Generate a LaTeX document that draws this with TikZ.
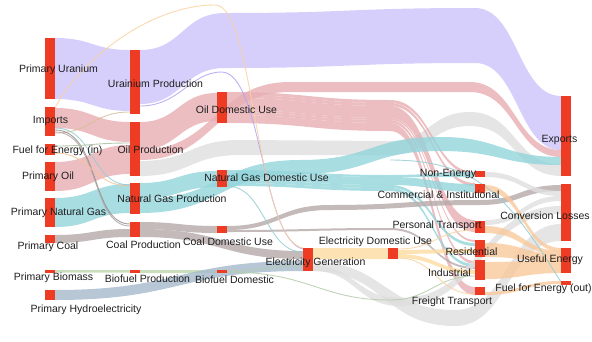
\documentclass[tikz,border=0pt]{standalone}
\usepackage{fontspec}
\setmainfont{Liberation Sans}
\definecolor{nodered}{RGB}{238,59,36}
\definecolor{lav}{RGB}{204,195,250}
\definecolor{pinkb}{RGB}{231,174,178}
\definecolor{cyanb}{RGB}{146,212,219}
\definecolor{grayb}{RGB}{222,222,222}
\definecolor{taupe}{RGB}{181,169,169}
\definecolor{hydro}{RGB}{165,185,204}
\definecolor{orangeb}{RGB}{253,219,161}
\definecolor{useful}{RGB}{249,200,155}
\definecolor{greenb}{RGB}{190,215,175}
\definecolor{txt}{RGB}{30,30,30}
\definecolor{tlav}{RGB}{175,165,245}
\definecolor{torange}{RGB}{250,210,160}
\definecolor{ttan}{RGB}{215,190,150}
\definecolor{tdark}{RGB}{150,140,140}
\definecolor{tgray}{RGB}{175,165,165}
\definecolor{tteal}{RGB}{150,205,210}
\definecolor{tgreen}{RGB}{170,190,160}
\definecolor{torg2}{RGB}{245,195,150}
\definecolor{tgreen2}{RGB}{180,205,170}
\tikzset{
  nd/.style={rectangle, fill=nodered, minimum width=10pt, inner sep=0pt, outer sep=0pt},
  lbl/.style={font=\fontsize{10.5}{12.5}\selectfont, text=txt, inner sep=0pt},
  fl/.style={fill=#1, fill opacity=0.8},
  tl/.style={draw=#1, line width=0.9pt, draw opacity=0.85}
}
\newcommand\cc[4]{.. controls ({(#1+#3)/2},#2) and ({(#1+#3)/2},#4) .. (#3,#4)}
\newcommand\seg[7]{\fill[fl=#1] (#2,#3) \cc{#2}{#3}{#5}{#6} -- (#5,#7) \cc{#5}{#7}{#2}{#4} -- cycle;}
\def\xm{390}
\newcommand\route[9]{\fill[fl=#1] (#2,#3) \cc{#2}{#3}{\xm}{#5} \cc{\xm}{#5}{#7}{#8} -- (#7,#9) \cc{#7}{#9}{\xm}{#6} \cc{\xm}{#6}{#2}{#4} -- cycle;}
\begin{document}
\begin{tikzpicture}[x=1pt,y=-1pt]
\useasboundingbox (0,0) rectangle (592,341);
% ---------- bands ----------
% uranium
\seg{lav}{55}{38}{99}{130}{50}{111}
\fill[fl=lav] (140,50) \cc{140}{50}{225}{13} \cc{225}{13}{475}{8} \cc{475}{8}{561}{96} -- (561,150) \cc{561}{150}{475}{63} \cc{475}{63}{225}{68} \cc{225}{68}{140}{104} -- cycle;
% light gray oil
\fill[fl=grayb] (140,161) \cc{140}{161}{240}{140} \cc{240}{140}{390}{141} \cc{390}{141}{470}{112} \cc{470}{112}{561}{165} -- (561,176) \cc{561}{176}{470}{126} \cc{470}{126}{390}{155} \cc{390}{155}{240}{155} \cc{240}{155}{140}{176} -- cycle;
% oil
\seg{pinkb}{55}{108}{128}{130}{122}{142}
\seg{pinkb}{55}{162}{191}{130}{145}{174}
\seg{pinkb}{140}{122}{150}{217}{93}{121}
\fill[fl=pinkb] (140,150) \cc{140}{150}{290}{82} \cc{290}{82}{470}{82} \cc{470}{82}{561}{150} -- (561,157) \cc{561}{157}{470}{92} \cc{470}{92}{290}{92} \cc{290}{92}{140}{160} -- cycle;
\route{pinkb}{227}{92}{95}{100}{103}{475}{172}{175}
\route{pinkb}{227}{95}{98}{103}{106}{475}{183}{186}
\route{pinkb}{227}{98}{110}{106}{118}{475}{220}{232}
\route{pinkb}{227}{110}{112}{118}{120}{475}{240}{242}
\route{pinkb}{227}{112}{115}{120}{123}{475}{261}{264}
\route{pinkb}{227}{115}{123}{123}{131}{475}{287}{295}
% natural gas
\seg{cyanb}{55}{198}{227}{130}{184}{213}
\seg{cyanb}{140}{183}{199}{217}{171}{187}
\fill[fl=cyanb] (140,199) \cc{140}{199}{300}{160} \cc{300}{160}{440}{137} \cc{440}{137}{561}{157} -- (561,165) \cc{561}{165}{440}{151} \cc{440}{151}{300}{174} \cc{300}{174}{140}{213} -- cycle;
\route{cyanb}{227}{170}{172}{175}{177}{475}{172}{177}
\route{cyanb}{227}{172}{180}{177}{185}{475}{184}{192}
\route{cyanb}{227}{180}{183}{185}{188}{475}{243}{246}
\route{cyanb}{227}{183}{186}{188}{191}{475}{264}{267}
% coal
\seg{taupe}{55}{235}{243}{130}{229}{237}
\seg{taupe}{140}{222}{229}{217}{226}{233}
\seg{taupe}{140}{229}{237}{303}{251}{259}
\fill[fl=taupe] (227,226) \cc{227}{226}{330}{205} \cc{330}{205}{480}{200} \cc{480}{200}{561}{185} -- (561,191) \cc{561}{191}{480}{205} \cc{480}{205}{330}{210} \cc{330}{210}{227}{230} -- cycle;
\route{taupe}{227}{230}{232}{228}{230}{475}{267}{269}
% biomass, hydro
\seg{greenb}{55}{270}{272.5}{130}{270}{272.5}
\seg{greenb}{140}{270}{273}{217}{270}{273}
\seg{hydro}{55}{290}{300}{303}{261}{271}
% electricity
\seg{orangeb}{313}{248}{259}{388}{248}{259}
\fill[fl=grayb] (313,262) \cc{313}{262}{455}{310} \cc{455}{310}{561}{224} -- (561,241) \cc{561}{241}{455}{326} \cc{455}{326}{313}{271} -- cycle;
\fill[fl=grayb] (313,266) \cc{313}{266}{400}{298} \cc{400}{298}{561}{206} -- (561,214) \cc{561}{214}{400}{306} \cc{400}{306}{313}{271} -- cycle;
\seg{orangeb}{398}{250}{254}{475}{249}{253}
\seg{orangeb}{398}{254}{258}{475}{270}{274}
% sectors to sinks
\seg{grayb}{485}{172}{177}{561}{191}{196}
\seg{grayb}{485}{220}{225}{561}{196}{201}
\seg{useful}{485}{185}{191}{561}{248}{252}
\seg{useful}{485}{226}{233}{561}{251}{255}
\seg{useful}{485}{243}{257}{561}{254}{262}
\seg{useful}{485}{262}{279}{561}{260}{273}
\seg{useful}{485}{292}{295}{561}{281}{284}
% ---------- thin links ----------
\draw[tl=tlav] (140,106) .. controls (180,106) and (190,72) .. (222,72) .. controls (262,74) and (262,240) .. (303,249);
\draw[tl=torange] (55,108) .. controls (80,60) and (150,5) .. (215,5) .. controls (255,5) and (255,240) .. (303,248);
\draw[tl=ttan] (55,133) .. controls (92,133) and (92,112) .. (130,112);
\draw[tl=tdark] (55,130) .. controls (100,130) and (90,224) .. (130,224);
\draw[tl=tgray] (55,132) .. controls (100,132) and (90,226) .. (130,226);
\draw[tl=tteal] (55,128) .. controls (95,128) and (90,185) .. (130,185);
\draw[tl=tgreen] (55,146) .. controls (92,146) and (92,143) .. (130,143);
\draw[tl=torg2] (55,153) .. controls (92,153) and (92,186) .. (130,186);
\draw[tl=tteal] (227,186) .. controls (265,186) and (265,252) .. (303,252);
\draw[tl=tteal] (390,160) .. controls (480,160) and (510,200) .. (561,282);
\draw[tl=tgreen2] (227,271) .. controls (265,271) and (265,266) .. (303,266);
\draw[tl=tgreen2] (227,272) .. controls (310,272) and (320,300) .. (390,300) .. controls (430,300) and (435,276) .. (475,276);
\draw[tl=torange] (398,249) .. controls (436,249) and (436,230) .. (475,230);
\draw[tl=torange] (398,258) .. controls (436,258) and (436,294) .. (475,294);
% ---------- nodes ----------
\node[nd, minimum height=61pt] (PU) at (50,68.5) {};
\node[nd, minimum height=29pt] (IM) at (50,121.5) {};
\node[nd, minimum height=11pt] (FI) at (50,149.5) {};
\node[nd, minimum height=29pt] (PO) at (50,176.5) {};
\node[nd, minimum height=29pt] (PG) at (50,212.5) {};
\node[nd, minimum height=8pt] (PC) at (50,239) {};
\node[nd, minimum height=2.5pt] (PB) at (50,271.25) {};
\node[nd, minimum height=10pt] (PH) at (50,295) {};
\node[nd, minimum height=64pt] (UP) at (135,82) {};
\node[nd, minimum height=54pt] (OP) at (135,149) {};
\node[nd, minimum height=31pt] (GP) at (135,198.5) {};
\node[nd, minimum height=15pt] (CP) at (135,229.5) {};
\node[nd, minimum height=3pt] (BP) at (135,271.5) {};
\node[nd, minimum height=31pt] (OD) at (222,107.5) {};
\node[nd, minimum height=17pt] (GD) at (222,178.5) {};
\node[nd, minimum height=7pt] (CD) at (222,229.5) {};
\node[nd, minimum height=3pt] (BD) at (222,271.5) {};
\node[nd, minimum height=23pt] (EG) at (308,259.5) {};
\node[nd, minimum height=11pt] (ED) at (393,253.5) {};
\node[nd, minimum height=6pt] (NE) at (480,174) {};
\node[nd, minimum height=9pt] (CI) at (480,188) {};
\node[nd, minimum height=12pt] (PT) at (480,227) {};
\node[nd, minimum height=17pt] (RE) at (480,248.5) {};
\node[nd, minimum height=20pt] (IN) at (480,270) {};
\node[nd, minimum height=8pt] (FT) at (480,291) {};
\node[nd, minimum height=80pt] (EX) at (566,136) {};
\node[nd, minimum height=57pt] (CL) at (566,212.5) {};
\node[nd, minimum height=25pt] (UE) at (566,260.5) {};
\node[nd, minimum height=4pt] (FO) at (566,283) {};
% ---------- labels ----------
\node[lbl] (PUl) at (58.5,70) {Primary Uranium};
\node[lbl] (IMl) at (50.5,121) {Imports};
\node[lbl] (FIl) at (57.5,151) {Fuel for Energy (in)};
\node[lbl] (POl) at (48,177) {Primary Oil};
\node[lbl] (PGl) at (58.5,213) {Primary Natural Gas};
\node[lbl] (PCl) at (48,247) {Primary Coal};
\node[lbl] (PBl) at (53.5,278) {Primary Biomass};
\node[lbl] (PHl) at (86,310) {Primary Hydroelectricity};
\node[lbl] (UPl) at (155.5,84) {Urainium Production};
\node[lbl] (OPl) at (150.5,150) {Oil Production};
\node[lbl] (GPl) at (172,199) {Natural Gas Production};
\node[lbl] (CPl) at (143.5,245) {Coal Production};
\node[lbl] (BPl) at (147.5,279) {Biofuel Production};
\node[lbl] (ODl) at (236.5,110) {Oil Domestic Use};
\node[lbl] (GDl) at (266.5,178) {Natural Gas Domestic Use};
\node[lbl] (CDl) at (228,242) {Coal Domestic Use};
\node[lbl] (BDl) at (234.5,280) {Biofuel Domestic};
\node[lbl] (EGl) at (315.5,263) {Electricity Generation};
\node[lbl] (EDl) at (375.5,242) {Electricity Domestic Use};
\node[lbl] (NEl) at (448,174) {Non-Energy};
\node[lbl] (CIl) at (438.5,195) {Commercial \& Institutional};
\node[lbl] (PTl) at (437,226) {Personal Transport};
\node[lbl] (REl) at (471.5,252) {Residential};
\node[lbl] (INl) at (449.5,273) {Industrial};
\node[lbl] (FTl) at (452,302) {Freight Transport};
\node[lbl] (EXl) at (559.5,140) {Exports};
\node[lbl] (CLl) at (545,216) {Conversion Losses};
\node[lbl] (UEl) at (550,260) {Useful Energy};
\node[lbl] (FOl) at (543.5,289) {Fuel for Energy (out)};
\end{tikzpicture}
\end{document}
